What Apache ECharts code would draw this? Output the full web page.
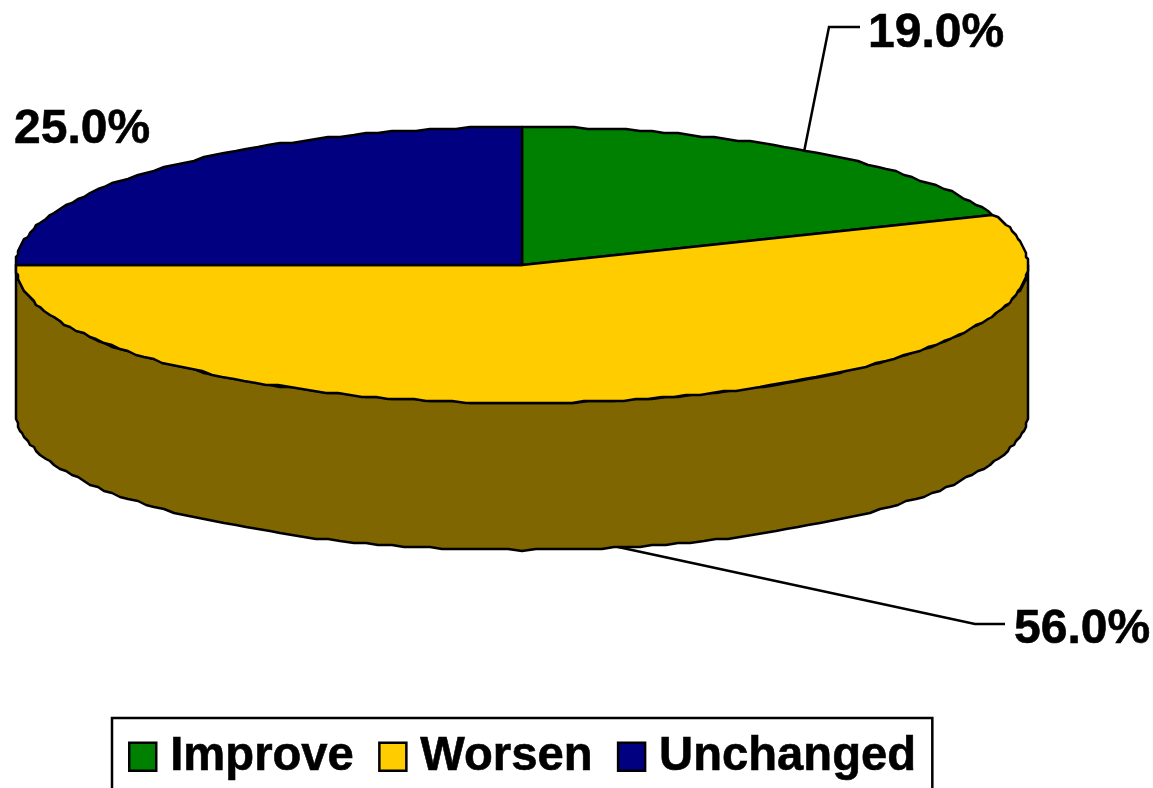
<!DOCTYPE html>
<html>
<head>
<meta charset="utf-8">
<title>Pie</title>
<script src="https://cdn.jsdelivr.net/npm/echarts@6/dist/echarts.min.js"></script>
<style>
html,body{margin:0;padding:0;background:#fff;overflow:hidden;}
#chart1{width:1153px;height:788px;}
</style>
</head>
<body>
<div id="chart1"></div>
<script>
var categories = ['Improve', 'Worsen', 'Unchanged'];
var values = [19, 56, 25];
var colors = ['#008000', '#FFCC00', '#000080'];
var sideColors = ['#004000', '#7F6600', '#000040'];

// ellipse of the pie top and the wall height
var cx = 522, cy = 265, rx = 506, ry = 138, depth = 147;
var FONT = '"Liberation Sans", Arial, sans-serif';

// label place and leader line per slice
var labelPos = [[868, 34], [1014, 630], [14, 130]];
var leaders = [
    [[804, 152], [829, 27], [860, 27]],
    [[618, 547], [975, 624], [1005, 624]],
    null
];

// source picture was coarse, edges stay on a small grid
function pt(a, dy) {
    var x = cx + rx * Math.sin(a);
    var y = cy - ry * Math.cos(a) + dy;
    return [Math.round(x / 2) * 2, Math.round((y - 1) / 2) * 2 + 1];
}

function arc(from, to, dy) {
    var list = [];
    var n = Math.max(2, Math.ceil((to - from) / (Math.PI / 120)));
    for (var i = 0; i <= n; i++) {
        var a = from + (to - from) * i / n;
        list.push(pt(a, dy));
    }
    return list;
}

function renderSlice(params, api) {
    var idx = params.seriesIndex;
    var total = 0, before = 0;
    for (var i = 0; i < values.length; i++) {
        total += values[i];
        if (i < idx) before += values[i];
    }
    var start = before / total * Math.PI * 2;
    var end = (before + api.value(0)) / total * Math.PI * 2;
    var children = [];

    // wall, only the part facing front
    var wallFrom = Math.max(start, Math.PI / 2);
    var wallTo = Math.min(end, Math.PI * 1.5);
    if (wallTo > wallFrom) {
        var wall = arc(wallFrom, wallTo, 0).concat(arc(wallFrom, wallTo, depth).reverse());
        children.push({
            type: 'polygon',
            shape: {points: wall},
            style: {fill: sideColors[idx], stroke: '#000', lineWidth: 2.5, lineJoin: 'round'}
        });
    }

    // top face
    var top = [[cx, cy]].concat(arc(start, end, 0));
    children.push({
        type: 'polygon',
        shape: {points: top},
        style: {fill: colors[idx], stroke: '#000', lineWidth: 2.5, lineJoin: 'round'}
    });

    if (leaders[idx]) {
        children.push({
            type: 'polyline',
            shape: {points: leaders[idx]},
            style: {fill: null, stroke: '#000', lineWidth: 2.5}
        });
    }
    children.push({
        type: 'text',
        x: labelPos[idx][0],
        y: labelPos[idx][1],
        style: {
            text: api.value(0).toFixed(1) + '%',
            fill: '#000',
            stroke: '#000',
            lineWidth: 0.6,
            font: 'bold 48px ' + FONT,
            textAlign: 'left',
            textVerticalAlign: 'middle'
        }
    });
    return {type: 'group', children: children};
}

function initChart1() {
    var chart = echarts.init(document.getElementById('chart1'), null, {renderer: 'canvas'});
    var series = [];
    for (var i = 0; i < categories.length; i++) {
        series.push({
            name: categories[i],
            type: 'custom',
            coordinateSystem: 'none',
            itemStyle: {color: colors[i]},
            renderItem: renderSlice,
            data: [[values[i]]]
        });
    }
    var option = {
        animation: false,
        backgroundColor: '#fff',
        legend: {
            data: categories,
            left: 112,
            top: 718,
            orient: 'horizontal',
            icon: 'rect',
            itemWidth: 27,
            itemHeight: 28,
            itemGap: 24,
            padding: [15, 16, 40, 16],
            borderColor: '#000',
            borderWidth: 2.5,
            selectedMode: false,
            itemStyle: {borderColor: '#000', borderWidth: 2.5},
            textStyle: {
                color: '#000',
                fontFamily: FONT,
                fontWeight: 'bold',
                fontSize: 47.2,
                textBorderColor: '#000',
                textBorderWidth: 0.6,
                padding: [16, 0, 0, 9]
            }
        },
        series: series
    };
    chart.setOption(option);
}
initChart1();
</script>
</body>
</html>
